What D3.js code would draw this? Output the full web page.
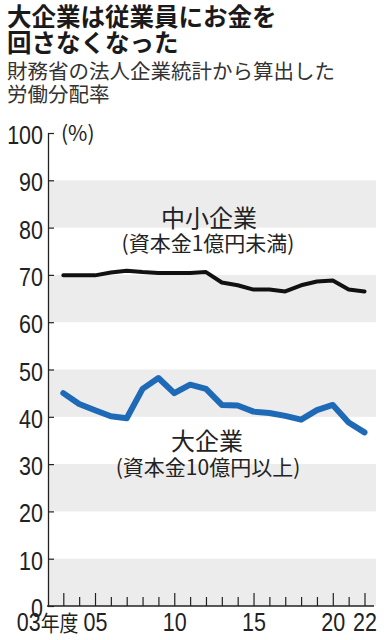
<!DOCTYPE html>
<html>
<head>
<meta charset="utf-8">
<script src="https://cdn.jsdelivr.net/npm/d3@7"></script>
<style>
  body { margin: 0; background: #fff; }
  svg { display: block; }
  .jp { font-family: "Noto Sans CJK JP", sans-serif; }
  .num { font-family: "Liberation Sans", Arial, sans-serif; }
</style>
</head>
<body>
<svg></svg>
<script>
// data
const years = [2003, 2004, 2005, 2006, 2007, 2008, 2009, 2010, 2011, 2012,
               2013, 2014, 2015, 2016, 2017, 2018, 2019, 2020, 2021, 2022];
const smeValues = [69.9, 69.9, 69.9, 70.5, 70.9, 70.6, 70.4, 70.4, 70.4, 70.6,
                   68.4, 67.8, 66.9, 66.9, 66.5, 67.8, 68.6, 68.8, 66.9, 66.5];
const largeValues = [45.0, 42.7, 41.4, 40.1, 39.7, 45.9, 48.2, 45.0, 46.8, 45.9,
                     42.5, 42.4, 41.1, 40.8, 40.2, 39.4, 41.4, 42.5, 38.8, 36.7];
const yTicks = [0, 10, 20, 30, 40, 50, 60, 70, 80, 90, 100];
const bandStarts = [0, 20, 40, 60, 80];
const majorYears = [2003, 2005, 2010, 2015, 2020, 2022];
const xTickLabels = ["03", "05", "10", "15", "20", "22"];

const width = 386, height = 640;
const plot = { left: 48, right: 376, top: 133, bottom: 606 };

const svg = d3.select("svg").attr("width", width).attr("height", height);

const x_scale = d3.scaleLinear().domain([2003, 2022]).range([63.3, 364.5]);
const y_scale = d3.scaleLinear().domain([0, 100]).range([plot.bottom, plot.top]);

const squeeze = 0.86;

// gray bands
svg.append("g")
  .selectAll("rect")
  .data(bandStarts)
  .join("rect")
  .attr("x", plot.left)
  .attr("width", plot.right - plot.left)
  .attr("y", (d) => y_scale(d + 10))
  .attr("height", (d) => y_scale(d) - y_scale(d + 10))
  .attr("fill", "#ececec");

// title
const title = svg.append("g").attr("class", "jp");
title.append("text").attr("x", 7).attr("y", 25.5)
  .style("font-size", "24.5px").style("font-weight", 700).attr("fill", "#1a1a1a")
  .text("大企業は従業員にお金を");
title.append("text").attr("x", 7).attr("y", 51.5)
  .style("font-size", "24.5px").style("font-weight", 700).attr("fill", "#1a1a1a")
  .text("回さなくなった");
title.append("text").attr("x", 7).attr("y", 78.5)
  .style("font-size", "20.5px").attr("fill", "#333")
  .text("財務省の法人企業統計から算出した");
title.append("text").attr("x", 7).attr("y", 101.5)
  .style("font-size", "20.5px").attr("fill", "#333")
  .text("労働分配率");

// y axis
const y_axis = d3.axisLeft(y_scale)
  .tickValues(yTicks)
  .tickSize(-6)
  .tickPadding(5)
  .tickSizeOuter(0);

const gy = svg.append("g")
  .attr("transform", `translate(${plot.left},0)`)
  .call(y_axis);
gy.select(".domain").attr("stroke", "#222").attr("stroke-width", 1.3);
gy.selectAll(".tick line").attr("stroke", "#222").attr("stroke-width", 1.2);
gy.selectAll(".tick text")
  .attr("class", "num")
  .attr("fill", "#222")
  .style("font-size", "25px")
  .attr("x", -5 / squeeze)
  .attr("dy", "0.42em")
  .attr("transform", `scale(${squeeze},1)`);

svg.append("text")
  .attr("class", "jp")
  .attr("x", 61)
  .attr("y", 141)
  .style("font-size", "21px")
  .attr("fill", "#222")
  .text("(%)");

// x axis
const x_axis = d3.axisBottom(x_scale)
  .tickValues(years)
  .tickSize(-9)
  .tickPadding(7)
  .tickSizeOuter(0)
  .tickFormat((d) => {
    const i = majorYears.indexOf(d);
    return i < 0 ? "" : xTickLabels[i];
  });

const gx = svg.append("g")
  .attr("transform", `translate(0,${plot.bottom})`)
  .call(x_axis);
gx.select(".domain")
  .attr("d", `M${plot.left - 1},0H${plot.right - 2}`)
  .attr("stroke", "#222").attr("stroke-width", 1.3);
gx.selectAll(".tick line")
  .attr("stroke", "#222").attr("stroke-width", 1.2)
  .attr("y2", (d) => majorYears.includes(d) ? -13 : -9);
gx.selectAll(".tick text")
  .attr("class", "num")
  .attr("fill", "#222")
  .style("font-size", "25px")
  .attr("transform", `scale(${squeeze},1)`);

// first label carries the unit
gx.selectAll(".tick text")
  .filter((d) => d === years[0])
  .attr("text-anchor", "end")
  .attr("x", 14.7 / squeeze)
  .text(null)
  .call((t) => {
    t.append("tspan").text(xTickLabels[0]);
    t.append("tspan").attr("class", "jp").style("font-size", "22px").text("年度");
  });

// lines
const line_generator = (vals) => d3.line()
  .x((d, i) => x_scale(years[i]))
  .y((d) => y_scale(d))(vals);

svg.append("path")
  .attr("fill", "none")
  .attr("stroke", "#111")
  .attr("stroke-width", 4)
  .attr("stroke-linejoin", "round")
  .attr("stroke-linecap", "round")
  .attr("d", line_generator(smeValues));

svg.append("path")
  .attr("fill", "none")
  .attr("stroke", "#1f6ab6")
  .attr("stroke-width", 6)
  .attr("stroke-linejoin", "round")
  .attr("stroke-linecap", "round")
  .attr("d", line_generator(largeValues));

// series labels
const labels = svg.append("g").attr("class", "jp").attr("fill", "#222").attr("text-anchor", "middle");
labels.append("text").attr("x", 209).attr("y", 226.5).style("font-size", "24px").text("中小企業");
labels.append("text").attr("x", 208).attr("y", 250.5).style("font-size", "21px").text("(資本金1億円未満)");
labels.append("text").attr("x", 207).attr("y", 450).style("font-size", "24px").text("大企業");
labels.append("text").attr("x", 208).attr("y", 475).style("font-size", "21px").text("(資本金10億円以上)");
</script>
</body>
</html>
